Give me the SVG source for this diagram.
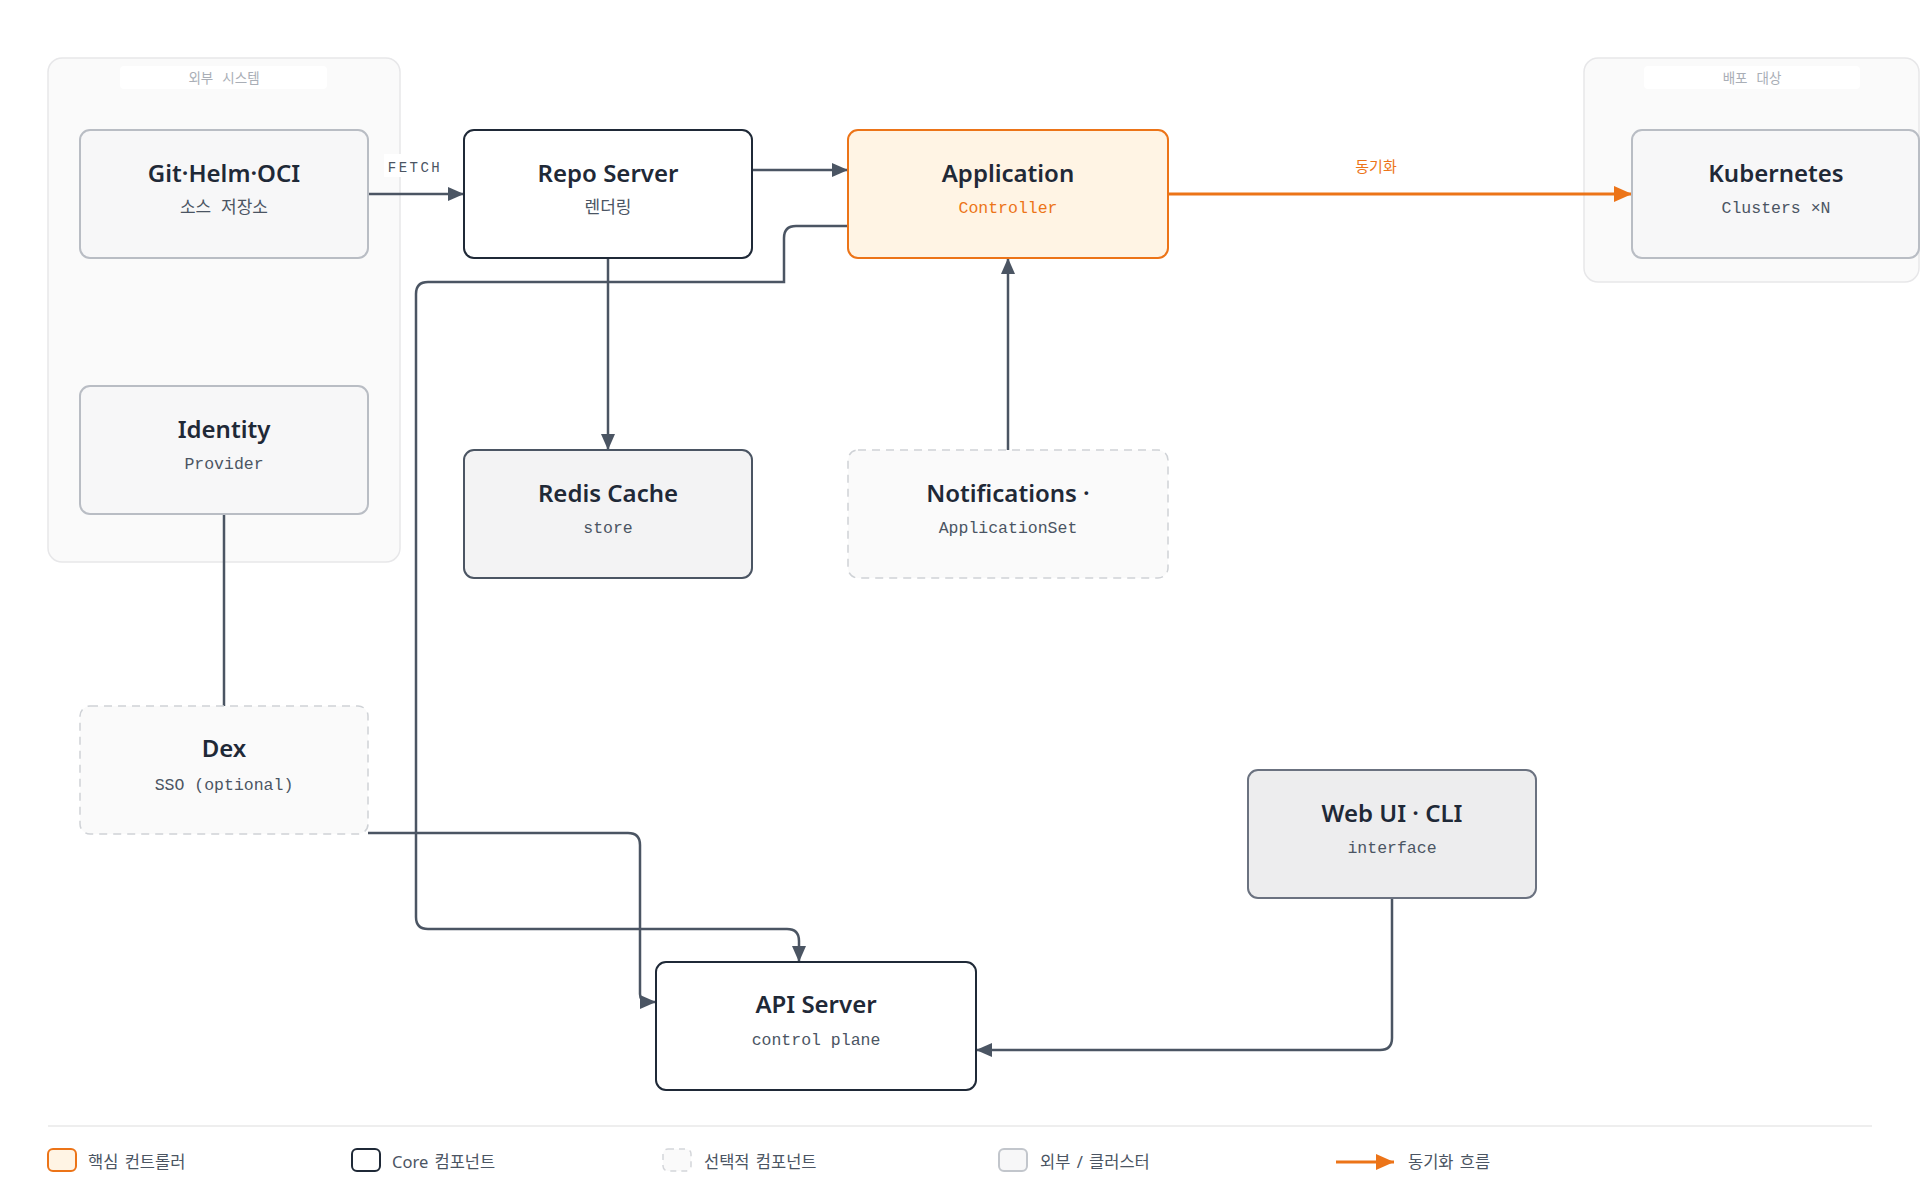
<svg xmlns="http://www.w3.org/2000/svg" width="1920" height="1202" viewBox="0 0 1920 1202">
<style>
.grp{fill:#fafafa;stroke:#e7e7e9;stroke-width:1.5}
.glbg{fill:#ffffff}
.glabel{font-family:"Noto Sans CJK KR",sans-serif;font-size:13.5px;fill:#a9aeb6;text-anchor:middle;word-spacing:6px}
.ext{fill:#f7f7f8;stroke:#b9bdc4;stroke-width:2}
.core{fill:#ffffff;stroke:#1f2937;stroke-width:2}
.ctrl{fill:#fff4e4;stroke:#ec7418;stroke-width:2}
.store{fill:#f3f3f4;stroke:#4b5563;stroke-width:2}
.opt{fill:#fafafa;stroke:#cfd2d6;stroke-width:1.5;stroke-dasharray:8 6}
.iface{fill:#ededee;stroke:#6b7280;stroke-width:2}
.t{font-family:"Noto Sans","Noto Sans CJK KR",sans-serif;font-size:24px;font-weight:600;fill:#1f2937;text-anchor:middle}
.s{font-family:"Liberation Mono",monospace;font-size:16.5px;fill:#4b5563;text-anchor:middle}
.sk{font-family:"Noto Sans CJK KR",sans-serif;font-size:17px;fill:#4b5563;text-anchor:middle;word-spacing:6px}
.edge{fill:none;stroke:#4b5563;stroke-width:2.5}
.sync{fill:none;stroke:#ec7418;stroke-width:3}
.elabel{font-family:"Liberation Mono",monospace;font-size:14px;fill:#4b5563;letter-spacing:2.5px;text-anchor:middle}
.slabel{font-family:"Noto Sans CJK KR",sans-serif;font-size:15px;fill:#ec7418;text-anchor:middle}
.lg{font-family:"Noto Sans","Noto Sans CJK KR",sans-serif;font-size:16.5px;fill:#4b5563;word-spacing:2px}
</style>
<defs>
<marker id="ah" markerUnits="userSpaceOnUse" markerWidth="16" markerHeight="14" refX="16" refY="7" orient="auto">
<path d="M0,0 L16,7 L0,14 Z" fill="#4b5563"/>
</marker>
<marker id="aho" markerUnits="userSpaceOnUse" markerWidth="18" markerHeight="16" refX="18" refY="8" orient="auto">
<path d="M0,0 L18,8 L0,16 Z" fill="#ec7418"/>
</marker>
</defs>
<rect width="1920" height="1202" fill="#ffffff"/>

<g id="group-external">
<rect class="grp" x="48" y="58" width="352" height="504" rx="14"/>
<rect class="glbg" x="120" y="66" width="207" height="23" rx="4"/>
<text class="glabel" x="224" y="83">외부 시스템</text>
</g>
<g id="group-deploy">
<rect class="grp" x="1584" y="58" width="335" height="224" rx="14"/>
<rect class="glbg" x="1644" y="66" width="216" height="23" rx="4"/>
<text class="glabel" x="1752" y="83">배포 대상</text>
</g>

<g id="connectors">
<path class="edge" d="M224,514 V706"/>
<path class="edge" d="M368,194 H464" marker-end="url(#ah)"/>
<path class="edge" d="M752,170 H848" marker-end="url(#ah)"/>
<path class="edge" d="M608,258 V450" marker-end="url(#ah)"/>
<path class="edge" d="M1008,450 V258" marker-end="url(#ah)"/>
<path class="edge" d="M848,226 H796 Q784,226 784,238 V282 H428 Q416,282 416,294 V917 Q416,929 428,929 H787 Q799,929 799,941 V962" marker-end="url(#ah)"/>
<path class="edge" d="M368,833 H628 Q640,833 640,845 V994 Q640,1002 648,1002 H656" marker-end="url(#ah)"/>
<path class="edge" d="M1392,898 V1038 Q1392,1050 1380,1050 H976" marker-end="url(#ah)"/>
<path class="sync" d="M1168,194 H1632" marker-end="url(#aho)"/>
<rect x="384" y="154" width="59" height="23" fill="#ffffff"/>
<text class="elabel" x="415" y="172">FETCH</text>
<text class="slabel" x="1376" y="172">동기화</text>
</g>

<g id="node-git">
<rect class="ext" x="80" y="130" width="288" height="128" rx="10"/>
<text class="t" x="224" y="182">Git·Helm·OCI</text>
<text class="sk" x="224" y="213">소스 저장소</text>
</g>
<g id="node-identity">
<rect class="ext" x="80" y="386" width="288" height="128" rx="10"/>
<text class="t" x="224" y="438">Identity</text>
<text class="s" x="224" y="469">Provider</text>
</g>
<g id="node-dex">
<rect class="opt" x="80" y="706" width="288" height="128" rx="10"/>
<text class="t" x="224" y="757">Dex</text>
<text class="s" x="224" y="790">SSO (optional)</text>
</g>
<g id="node-repo">
<rect class="core" x="464" y="130" width="288" height="128" rx="10"/>
<text class="t" x="608" y="182">Repo Server</text>
<text class="sk" x="608" y="213">렌더링</text>
</g>
<g id="node-app">
<rect class="ctrl" x="848" y="130" width="320" height="128" rx="10"/>
<text class="t" x="1008" y="182">Application</text>
<text class="s" x="1008" y="213" style="fill:#ec7418">Controller</text>
</g>
<g id="node-redis">
<rect class="store" x="464" y="450" width="288" height="128" rx="10"/>
<text class="t" x="608" y="502">Redis Cache</text>
<text class="s" x="608" y="533">store</text>
</g>
<g id="node-notifications">
<rect class="opt" x="848" y="450" width="320" height="128" rx="10"/>
<text class="t" x="1008" y="502">Notifications ·</text>
<text class="s" x="1008" y="533">ApplicationSet</text>
</g>
<g id="node-k8s">
<rect class="ext" x="1632" y="130" width="287" height="128" rx="10"/>
<text class="t" x="1776" y="182">Kubernetes</text>
<text class="s" x="1776" y="213">Clusters ×N</text>
</g>
<g id="node-webui">
<rect class="iface" x="1248" y="770" width="288" height="128" rx="10"/>
<text class="t" x="1392" y="822">Web UI · CLI</text>
<text class="s" x="1392" y="853">interface</text>
</g>
<g id="node-api">
<rect class="core" x="656" y="962" width="320" height="128" rx="10"/>
<text class="t" x="816" y="1013">API Server</text>
<text class="s" x="816" y="1045">control plane</text>
</g>

<g id="legend">
<line x1="48" y1="1126" x2="1872" y2="1126" stroke="#eeeeee" stroke-width="2"/>
<rect x="48" y="1149" width="28" height="22" rx="5" fill="#fff4e4" stroke="#ec7418" stroke-width="2"/>
<text class="lg" x="88" y="1168">핵심 컨트롤러</text>
<rect x="352" y="1149" width="28" height="22" rx="5" fill="#ffffff" stroke="#1f2937" stroke-width="2"/>
<text class="lg" x="392" y="1168">Core 컴포넌트</text>
<rect x="663" y="1149" width="28" height="22" rx="5" fill="#fafafa" stroke="#d4d6da" stroke-width="1.5" stroke-dasharray="6 5"/>
<text class="lg" x="704" y="1168">선택적 컴포넌트</text>
<rect x="999" y="1149" width="28" height="22" rx="5" fill="#f7f7f8" stroke="#c2c6cc" stroke-width="2"/>
<text class="lg" x="1040" y="1168">외부 / 클러스터</text>
<path d="M1336,1162 H1394" stroke="#ec7418" stroke-width="3" marker-end="url(#aho)"/>
<text class="lg" x="1408" y="1168">동기화 흐름</text>
</g>
</svg>
